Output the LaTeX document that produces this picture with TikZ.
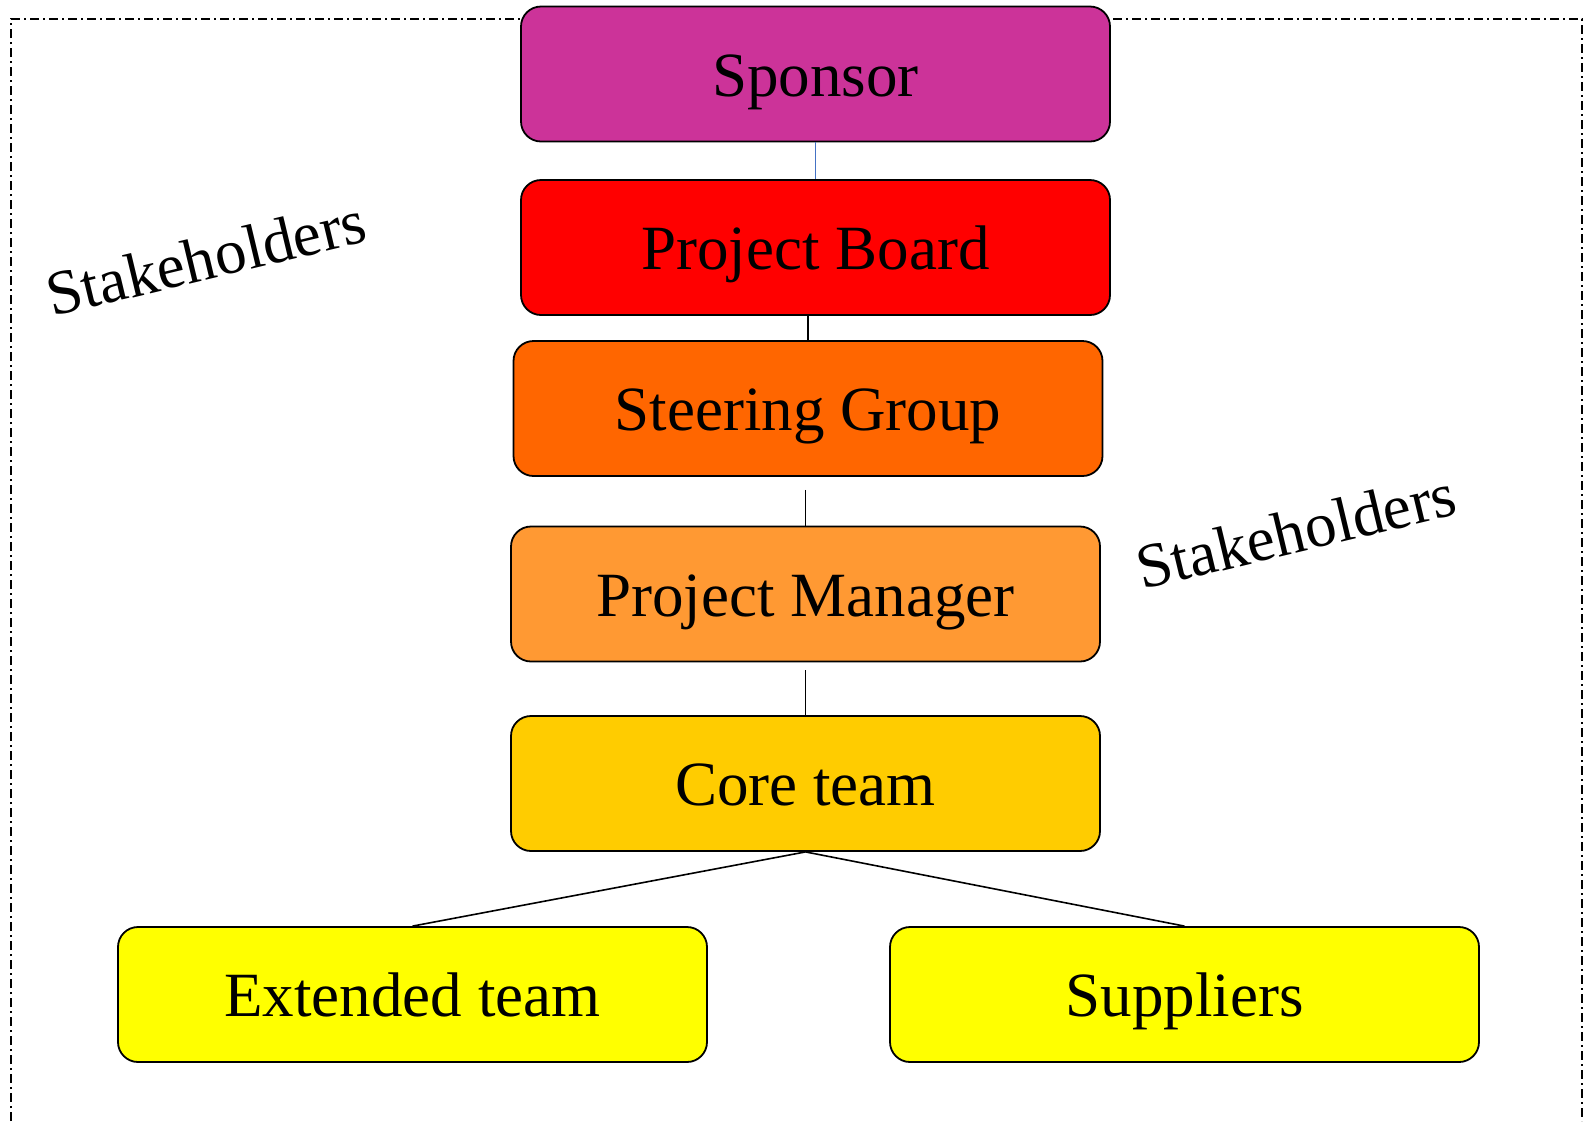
\documentclass[tikz,border=0pt]{standalone}
\usepackage{fontspec}
\setmainfont{Liberation Serif}
\usepackage{tikz}
\definecolor{sponsorcol}{RGB}{204,51,153}
\definecolor{boardcol}{RGB}{255,0,0}
\definecolor{steercol}{RGB}{255,102,0}
\definecolor{pmcol}{RGB}{255,153,51}
\definecolor{corecol}{RGB}{255,204,0}
\definecolor{teamcol}{RGB}{255,255,0}
\definecolor{linkblue}{RGB}{68,114,196}

\begin{document}
\begin{tikzpicture}[x=0.5pt,y=-0.5pt,
	block/.style={draw,line width=0.9pt,rounded corners=10pt,inner sep=0pt,
		minimum width=294.5pt,minimum height=67.5pt,text height=22pt,text depth=0pt,
		font=\fontsize{31.5}{36}\selectfont},
	link/.style={line width=0.8pt},
	tag/.style={font=\fontsize{31.5}{36}\selectfont,rotate=13.5}]
	\useasboundingbox (0,0) rectangle (1585,1121);
	%% frame
	\draw[line width=0.75pt,dash pattern=on 4.5pt off 2pt on 1pt off 2pt]
		(11,1121) -- (11,19) -- (1582,19) -- (1582,1121);
	%% hierarchy
	\node[block,fill=sponsorcol] (sponsor) at (815.5,74) {Sponsor};
	\node[block,fill=boardcol] (board) at (815.5,247.5) {Project Board};
	\node[block,fill=steercol] (steer) at (808,408.5) {Steering Group};
	\node[block,fill=pmcol] (pm) at (805.5,594) {Project Manager};
	\node[block,fill=corecol] (core) at (805.5,783.5) {Core team};
	\node[block,fill=teamcol] (ext) at (412.5,994.5) {Extended team};
	\node[block,fill=teamcol] (supp) at (1184.5,994.5) {Suppliers};
	%% links
	\draw[link,draw=linkblue] (sponsor) -- (board);
	\draw[link] (steer.north |- board.south) -- (steer.north);
	\draw[link,shorten <=6.5pt] (pm.north |- steer.south) -- (pm.north);
	\draw[link,shorten <=4pt] (pm) -- (core);
	\draw[link] (core.south) -- (ext.north);
	\draw[link] (core.south) -- (supp.north);
	%% stakeholders
	\node[tag] (tagleft) at (206,258) {Stakeholders};
	\node[tag] (tagright) at (1296,531) {Stakeholders};
\end{tikzpicture}
\end{document}
